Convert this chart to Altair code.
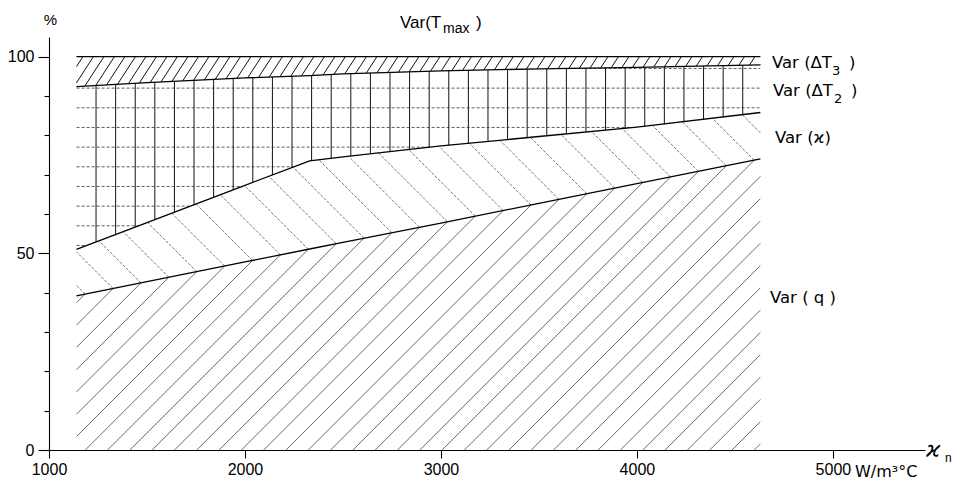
import numpy as np
import pandas as pd
import altair as alt

# ---------------- data ----------------
# x : ϰ_n  (W/m3°C) ; cumulative share of Var(T_max) in %
xs        = [1140, 1500, 2000, 2330, 2500, 3000, 3500, 4000, 4630]
var_q     = [39.2, 42.8, 47.8, 51.1, 52.8, 57.7, 62.7, 67.7, 74.0]   # top of Var(q)
var_kappa = [51.0, 57.8, 67.3, 73.5, 74.5, 77.3, 79.7, 82.1, 85.8]   # top of Var(ϰ)
var_dT2   = [92.4, 93.4, 94.6, 95.2, 95.6, 96.4, 96.9, 97.3, 97.9]   # top of Var(ΔT2)
var_dT3   = [100.0, 100.0, 100.0, 100.0, 100.0, 100.0, 100.0, 100.0, 100.0]  # top of Var(ΔT3)

x_ticks = [1000, 2000, 3000, 4000, 5000]
y_ticks = [0, 10, 20, 30, 40, 50, 60, 70, 80, 90, 100]

# ---------------- layout ----------------
XMIN, XMAX = 1000, 5470
YMIN, YMAX = 0, 105
W, H = 876, 413
SX = W / (XMAX - XMIN)
SY = H / (YMAX - YMIN)
FONT = "Liberation Sans"
FONT2 = "DejaVu Sans"

U = (np.array(xs, float) - XMIN) * SX
u0, u1 = U[0], U[-1]


def make_fn(vals):
    V = np.array(vals, float) * SY
    sl = (V[1] - V[0]) / (U[1] - U[0])
    sr = (V[-1] - V[-2]) / (U[-1] - U[-2])

    def f(u):
        u = np.asarray(u, float)
        v = np.interp(u, U, V)
        v = np.where(u < U[0], V[0] + (u - U[0]) * sl, v)
        v = np.where(u > U[-1], V[-1] + (u - U[-1]) * sr, v)
        return v
    return f


zero_fn = lambda u: np.zeros_like(np.asarray(u, float))
q_fn = make_fn(var_q)
k_fn = make_fn(var_kappa)
t2_fn = make_fn(var_dT2)
t3_fn = make_fn(var_dT3)


def clip_line(p0, d, lo, hi, tmax=1300, step=0.2):
    t = np.arange(-tmax, tmax, step)
    u = p0[0] + t * d[0]
    v = p0[1] + t * d[1]
    inside = (u >= u0) & (u <= u1) & (v >= lo(u)) & (v <= hi(u))
    edges = np.flatnonzero(np.diff(np.concatenate([[0], inside.astype(int), [0]])))
    segs = []
    for s, e in zip(edges[0::2], edges[1::2] - 1):
        if e > s:
            segs.append((u[s], v[s], u[e], v[e]))
    return segs


def to_df(segs):
    a = np.array(segs) if segs else np.zeros((0, 4))
    return pd.DataFrame({
        "x": a[:, 0] / SX + XMIN, "y": a[:, 1] / SY,
        "x2": a[:, 2] / SX + XMIN, "y2": a[:, 3] / SY,
    })


# bottom band: "/" lines, and herringbone "\" lines in the Var(ϰ) band
sq2 = np.sqrt(0.5)
sp = 22.3
cs = 14 + sp * np.arange(-25, 45)
seg_q, seg_k = [], []
uu = np.arange(-800, 2000, 0.05)
for c in cs:
    seg_q += clip_line((c, 0.0), (sq2, sq2), zero_fn, q_fn)
    f = uu - c - q_fn(uu)
    up = np.interp(0.0, f, uu)
    vp = q_fn(up)
    seg_k += clip_line((float(up), float(vp)), (-sq2, sq2), q_fn, k_fn)

# grid band: vertical solid lines and horizontal dotted lines
vx = np.arange(1240, xs[-1], 100)
df_vert = pd.DataFrame({
    "x": vx, "x2": vx,
    "y": np.interp(vx, xs, var_kappa), "y2": np.interp(vx, xs, var_dT2),
})
seg_h = []
for yl in np.arange(52.0, 100.0, 5.0):
    seg_h += clip_line((0.0, yl * SY), (1.0, 0.0), k_fn, t2_fn)

# top band: dense "/" lines
ang = np.deg2rad(57)
d3 = (np.cos(ang), np.sin(ang))
seg_t = []
for c in np.arange(-400, 900, 10.5):
    seg_t += clip_line((c, 0.0), d3, t2_fn, t3_fn)

# ---------------- encodings ----------------
xscale = alt.Scale(domain=[XMIN, XMAX], nice=False, zero=False)
yscale = alt.Scale(domain=[YMIN, YMAX], nice=False, zero=False)
xaxis = alt.Axis(values=x_ticks, format="d", title=None, grid=False, tickSize=8,
                 labelFontSize=16, labelFont=FONT, labelColor="black",
                 labelPadding=3, domainColor="black", tickColor="black",
                 domainWidth=1.1, tickWidth=1.1, labelFlush=False, labelOverlap=False)
yaxis = alt.Axis(values=y_ticks, title=None, grid=False,
                 tickSize={"condition": {"test": "datum.value % 50 === 0", "value": 11}, "value": 5},
                 labelExpr="datum.value % 50 === 0 ? datum.label : ''",
                 labelFontSize=16, labelFont=FONT, labelColor="black", labelPadding=4,
                 domainColor="black", tickColor="black", domainWidth=1.1, tickWidth=1.1,
                 labelOverlap=False)


def rules(df, color, width, dash=None):
    kw = dict(color=color, strokeWidth=width)
    if dash:
        kw["strokeDash"] = dash
    return alt.Chart(df).mark_rule(**kw).encode(
        x=alt.X("x:Q", scale=xscale, axis=xaxis),
        y=alt.Y("y:Q", scale=yscale, axis=yaxis),
        x2="x2:Q", y2="y2:Q")


lines_df = pd.concat([
    pd.DataFrame({"x": xs, "y": var_q, "s": "q"}),
    pd.DataFrame({"x": xs, "y": var_kappa, "s": "kappa"}),
    pd.DataFrame({"x": xs, "y": var_dT2, "s": "dT2"}),
    pd.DataFrame({"x": xs, "y": var_dT3, "s": "dT3"}),
])
bounds = alt.Chart(lines_df).mark_line(color="black", strokeWidth=1.3).encode(
    x=alt.X("x:Q", scale=xscale, axis=xaxis),
    y=alt.Y("y:Q", scale=yscale, axis=yaxis),
    detail="s:N")

layers = [
    rules(to_df(seg_q), "#444444", 0.8),
    rules(to_df(seg_k), "#555555", 0.8, [3, 1.5]),
    rules(df_vert, "#111111", 1.0),
    rules(to_df(seg_h), "#333333", 0.8, [3, 2]),
    rules(to_df(seg_t), "#111111", 1.0),
    bounds,
]

# ---------------- text annotations ----------------
texts = [
    ("%", 1.5, -12, 15, "center", "normal", FONT),
    ("Var(T", 351, -9, 17, "left", "normal", FONT),
    ("max", 394, -4, 14, "left", "normal", FONT),
    (")", 427, -9, 17, "left", "normal", FONT),
    ("Var (ΔT", 723, 31, 16.5, "left", "normal", FONT2),
    ("3", 783, 38, 13, "left", "normal", FONT2),
    (")", 800, 31, 16.5, "left", "normal", FONT2),
    ("Var (ΔT", 724, 59, 16.5, "left", "normal", FONT2),
    ("2", 785, 66, 13, "left", "normal", FONT2),
    (")", 802, 59, 16.5, "left", "normal", FONT2),
    ("Var (ϰ)", 726, 106, 16.5, "left", "normal", FONT2),
    ("Var ( q )", 721, 266, 16.5, "left", "normal", FONT2),
    ("W/m³°C", 806, 440, 16, "left", "normal", FONT2),
    ("ϰ", 877, 420, 22, "left", "italic", FONT2),
    ("n", 896, 425, 12, "left", "normal", FONT),
]
one = pd.DataFrame({"a": [0]})
for t, x, y, s, al, st, fnt in texts:
    layers.append(alt.Chart(one).mark_text(
        text=t, fontSize=s, font=fnt, align=al, baseline="alphabetic",
        fontStyle=st, color="black").encode(x=alt.value(x), y=alt.value(y)))

chart = alt.layer(*layers).properties(
    width=W, height=H,
    autosize=alt.AutoSizeParams(type="none"),
    padding={"left": 41, "top": 29, "right": 30, "bottom": 30},
).configure_view(stroke=None)

chart.save("out.html", embed_options={"renderer": "svg", "actions": False})
